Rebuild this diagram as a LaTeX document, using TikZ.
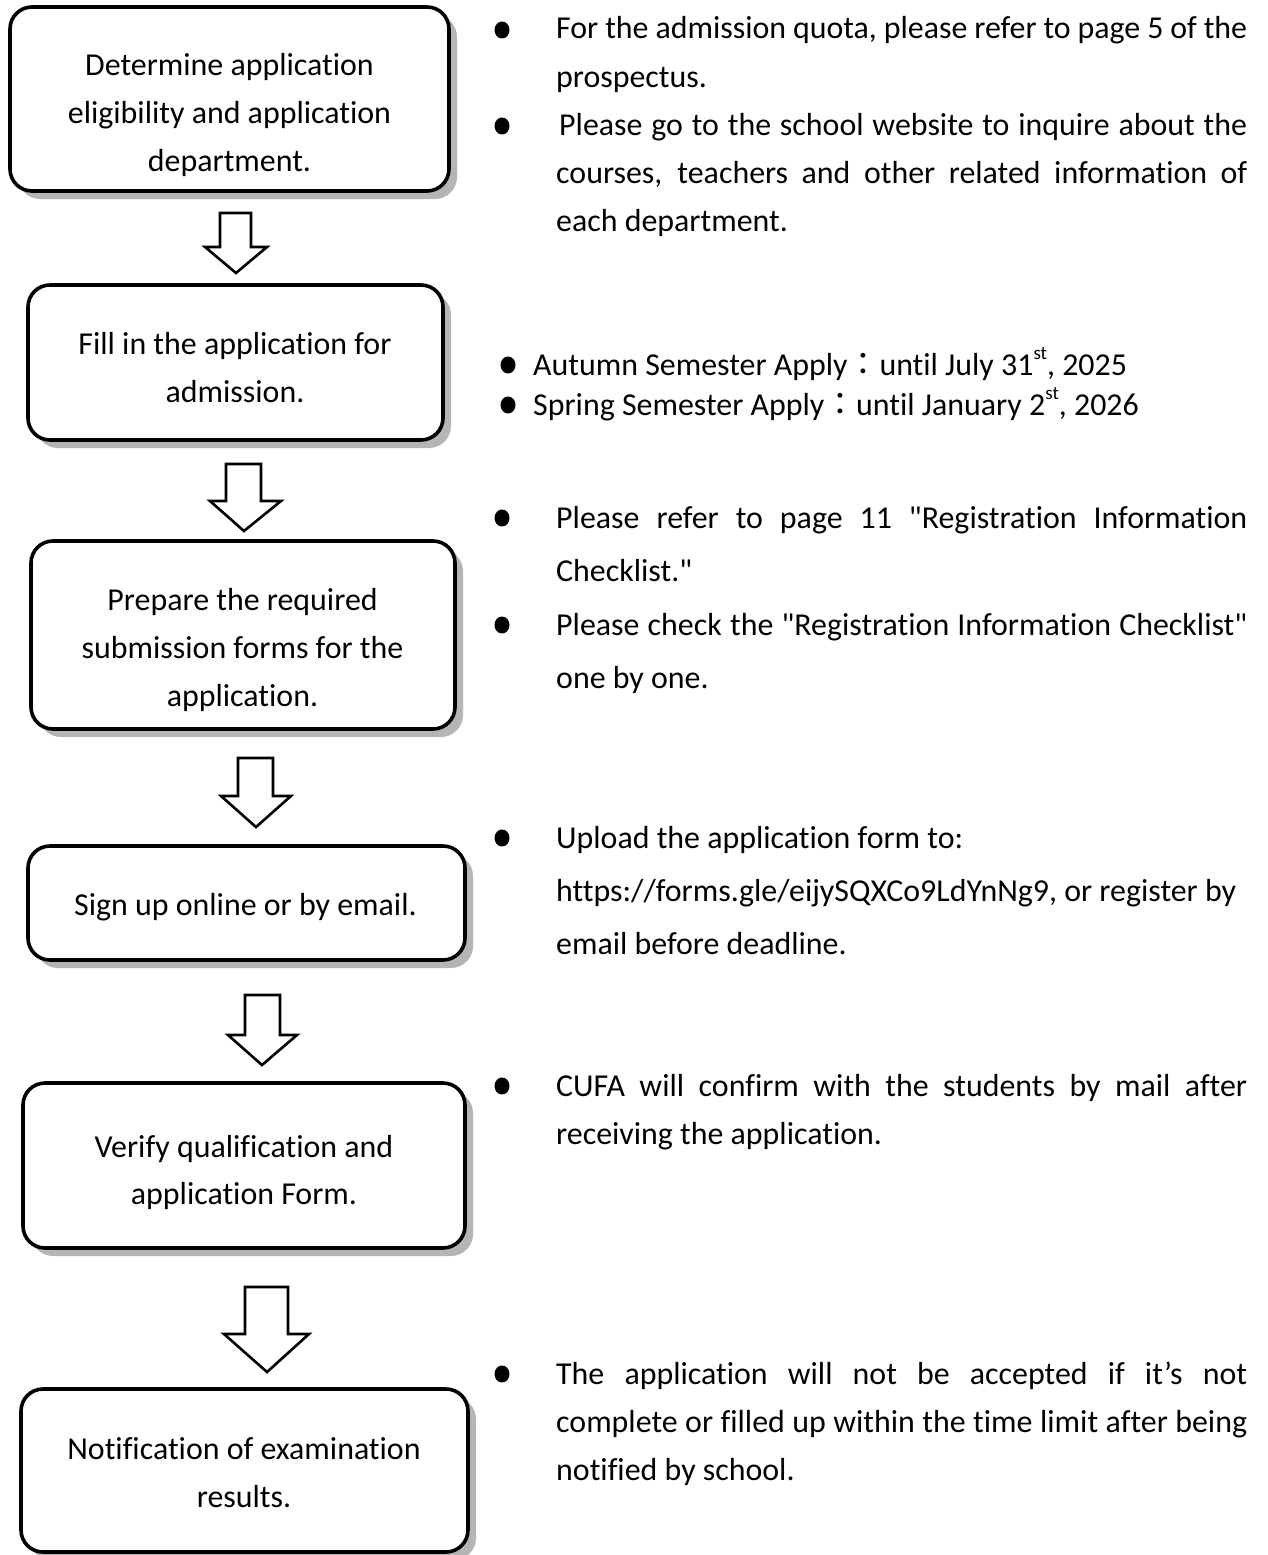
\documentclass[tikz,border=0pt]{standalone}
\usepackage{fontspec}
\setmainfont{Carlito}[Ligatures={TeXOff,NoCommon}]
\newfontfamily\cjk{Noto Sans CJK TC}
\newcommand\supst{\raisebox{0.48em}{\fontsize{19}{20}\selectfont st}}
\begin{document}
\begin{tikzpicture}[x=1pt,y=-1pt,
  boxshape/.style={draw=black,line width=3.6pt,fill=white,rounded corners=22pt},
  shadowshape/.style={fill=gray!58,rounded corners=22pt},
  blockarrow/.style={draw=black,line width=2.6pt,fill=white,line join=miter},
  txt/.style={inner sep=0pt,anchor=base,font=\fontsize{31.9}{38}\selectfont},
  rtxt/.style={inner sep=0pt,anchor=base west,font=\fontsize{31.9}{38}\selectfont}]
\useasboundingbox (0,0) rectangle (1267,1555);
\fill[white] (0,0) rectangle (1267,1555);
% shadows
\foreach \l/\t/\r/\b in {10/7/449/191, 28/285/443/440, 31/541/455/729, 28/846/465/960, 23/1083/465/1248, 21/1389/468/1552}{
  \fill[shadowshape] (\l+8,\t+8) rectangle (\r+8,\b+8);
}
% boxes
\draw[boxshape] (10,7) rectangle (449,191) coordinate (b1);
\draw[boxshape] (28,285) rectangle (443,440) coordinate (b2);
\draw[boxshape] (31,541) rectangle (455,729) coordinate (b3);
\draw[boxshape] (28,846) rectangle (465,960) coordinate (b4);
\draw[boxshape] (23,1083) rectangle (465,1248) coordinate (b5);
\draw[boxshape] (21,1389) rectangle (468,1552) coordinate (b6);
% box texts
\node[txt] (t1a) at (229.5,76) {Determine application};
\node[txt] (t1b) at (229.5,123) {eligibility and application};
\node[txt] (t1c) at (229.5,171) {department.};
\node[txt] (t2a) at (235,354) {Fill in the application for};
\node[txt] (t2b) at (235,402) {admission.};
\node[txt] (t3a) at (242.5,610) {Prepare the required};
\node[txt] (t3b) at (242.5,658) {submission forms for the};
\node[txt] (t3c) at (242.5,706) {application.};
\node[txt] (t4a) at (245.5,915) {Sign up online or by email.};
\node[txt] (t5a) at (244,1157) {Verify qualification and};
\node[txt] (t5b) at (244,1204) {application Form.};
\node[txt] (t6a) at (244,1459) {Notification of examination};
\node[txt] (t6b) at (244,1507) {results.};
% block arrows
\foreach \L/\R/\T/\H/\WL/\WR/\Y/\X in {220/251/213/247/205/267/273/236, 226/261/464/501/210/281/531/244, 238/273/758/796/221/291/827/256, 245/280/995/1035/228/297/1065/262, 245/288/1287/1334/224/309/1372/267}{
  \draw[blockarrow] (\L,\T) -- (\R,\T) -- (\R,\H) -- (\WR,\H) -- (\X,\Y) -- (\WL,\H) -- (\L,\H) -- cycle;
}
% bullets
\foreach \bx/\by in {502/30, 502/126, 508/365, 508/405, 502/518, 502/625, 502/838, 502/1086, 502/1374}{
  \fill (\bx,\by) ellipse [x radius=7.5, y radius=8.5];
}
% right column text
\node[rtxt] (r1a) at (556,39) {\makebox[691pt][s]{For the admission quota, please refer to page 5 of the}};
\node[rtxt] (r1b) at (556,87) {prospectus.};
\node[rtxt] (r2a) at (559,135) {\makebox[688pt][s]{Please go to the school website to inquire about the}};
\node[rtxt] (r2b) at (556,183) {\makebox[691pt][s]{courses, teachers and other related information of}};
\node[rtxt] (r2c) at (556,231) {each department.};
\node[rtxt] (d1) at (533,375) {Autumn Semester Apply{\cjk ：}until July 31\supst, 2025};
\node[rtxt] (d2) at (533,415) {Spring Semester Apply{\cjk ：}until January 2\supst, 2026};
\node[rtxt] (r3a) at (556,528) {\makebox[691pt][s]{Please refer to page 11 "Registration Information}};
\node[rtxt] (r3b) at (556,581) {Checklist."};
\node[rtxt] (r4a) at (556,635) {\makebox[691pt][s]{Please check the "Registration Information Checklist"}};
\node[rtxt] (r4b) at (556,688) {one by one.};
\node[rtxt] (r5a) at (556,848) {Upload the application form to:};
\node[rtxt] (r5b) at (556,901) {https://forms.gle/eijySQXCo9LdYnNg9, or register by};
\node[rtxt] (r5c) at (556,954) {email before deadline.};
\node[rtxt] (r6a) at (556,1096) {\makebox[691pt][s]{CUFA will confirm with the students by mail after}};
\node[rtxt] (r6b) at (556,1144) {receiving the application.};
\node[rtxt] (r7a) at (556,1384) {\makebox[691pt][s]{The application will not be accepted if it’s not}};
\node[rtxt] (r7b) at (556,1432) {\makebox[691pt][s]{complete or filled up within the time limit after being}};
\node[rtxt] (r7c) at (556,1480) {notified by school.};
\end{tikzpicture}
\end{document}
